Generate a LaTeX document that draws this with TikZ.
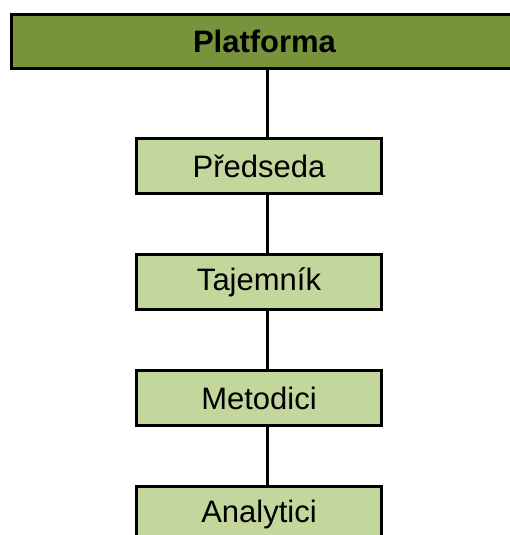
\documentclass[tikz,border=0pt]{standalone}
\usepackage{fontspec}
\setmainfont{Liberation Sans}
\definecolor{topgreen}{HTML}{77933C}
\definecolor{boxgreen}{HTML}{C3D69B}
\begin{document}
\begin{tikzpicture}[x=1pt,y=1pt,
  headbox/.style={draw=black,line width=3pt,fill=topgreen,minimum width=506pt,minimum height=54.5pt,inner sep=0pt,font=\fontsize{31}{37}\selectfont\bfseries},
  rolebox/.style={draw=black,line width=3pt,fill=boxgreen,minimum width=245pt,minimum height=55pt,inner sep=0pt,font=\fontsize{31}{37}\selectfont},
  link/.style={draw=black,line width=3pt}]
\useasboundingbox (0,0) rectangle (510,-535);
\clip (0,0) rectangle (510,-535);
\fill[white] (0,0) rectangle (510,-535);
\coordinate (xc) at (267,0);
\node[headbox] (plat) at (264.5,-41.5) {Platforma};
\node[rolebox] (pred) at (259,-166) {Předseda};
\node[rolebox] (taj) at (259,-282) {Tajemník};
\node[rolebox] (met) at (259,-398) {Metodici};
\node[rolebox] (ana) at (259,-514) {Analytici};
\draw[link] (plat.south -| xc) -- (pred.north -| xc);
\draw[link] (pred.south -| xc) -- (taj.north -| xc);
\draw[link] (taj.south -| xc) -- (met.north -| xc);
\draw[link] (met.south -| xc) -- (ana.north -| xc);
\end{tikzpicture}
\end{document}
